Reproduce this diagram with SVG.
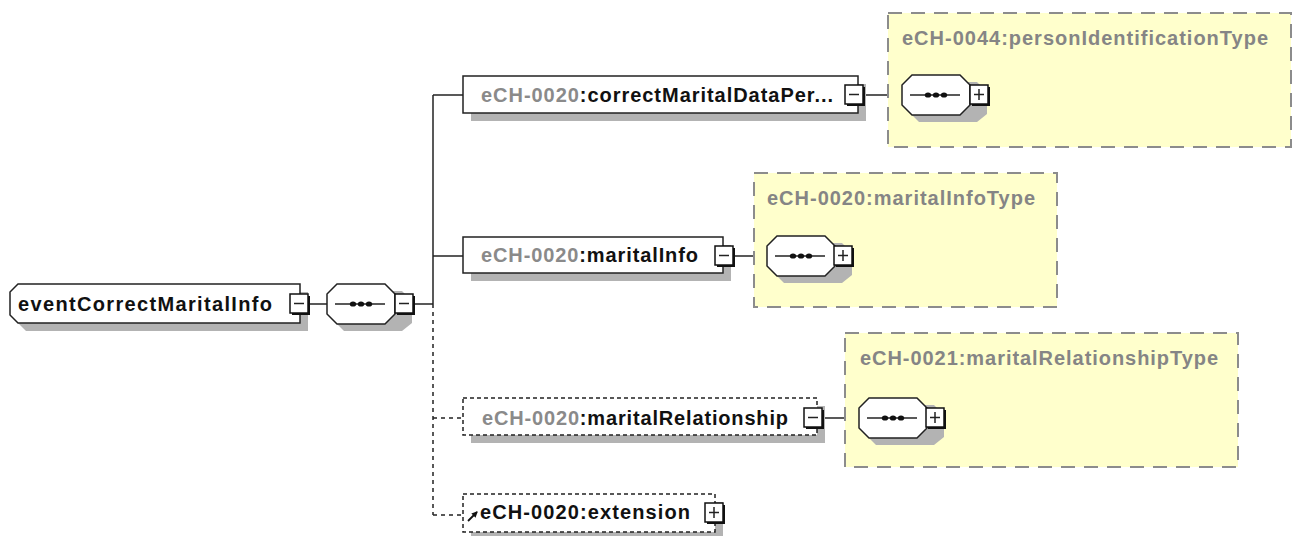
<svg xmlns="http://www.w3.org/2000/svg" width="1293" height="536" viewBox="0 0 1293 536">
<style>
  .lbl{font-family:"Liberation Sans",Arial,sans-serif;font-weight:bold;font-size:20px;fill:#111}
  .pfx{fill:#8a8a8a}
  .tlbl{font-family:"Liberation Sans",Arial,sans-serif;font-weight:bold;font-size:20px;fill:#858585}
  .box{fill:#fff;stroke:#222;stroke-width:1.5}
  .obox{fill:#fff;stroke:#222;stroke-width:1.5;stroke-dasharray:4 3}
  .shadow{fill:#b3b3b3}
  .tbox{fill:#ffffcc;stroke:#8c8c8c;stroke-width:2;stroke-dasharray:14 9}
  .line{stroke:#222;stroke-width:1.5;fill:none}
  .dline{stroke:#222;stroke-width:1.5;fill:none;stroke-dasharray:4 4}
  .btn{fill:#fff;stroke:#111;stroke-width:1.5}
  .btnsh{fill:#111}
</style>
<defs>
  <g id="minus">
    <rect class="btnsh" x="2" y="2" width="18" height="19"/>
    <rect class="btn" x="0" y="0" width="18" height="19"/>
    <line x1="4" y1="9.5" x2="14" y2="9.5" stroke="#222" stroke-width="1.5"/>
  </g>
  <g id="plus">
    <rect class="btnsh" x="2" y="2" width="18" height="19"/>
    <rect class="btn" x="0" y="0" width="18" height="19"/>
    <line x1="4" y1="9.5" x2="14" y2="9.5" stroke="#222" stroke-width="1.5"/>
    <line x1="9" y1="4" x2="9" y2="15" stroke="#222" stroke-width="1.5"/>
  </g>
  <g id="seq">
    <path class="shadow" d="M17,7 H75 L85,17 V39 L75,47 H17 L7,37 V17 Z"/>
    <path class="box" d="M10,0 H58 L68,10 V30 L58,40 H10 L0,30 V10 Z"/>
    <line x1="8" y1="20" x2="58" y2="20" stroke="#222" stroke-width="1.5"/>
    <ellipse cx="26" cy="20" rx="3.2" ry="2.6" fill="#111"/>
    <ellipse cx="34" cy="20" rx="3.2" ry="2.6" fill="#111"/>
    <ellipse cx="42" cy="20" rx="3.2" ry="2.6" fill="#111"/>
  </g>
  <marker id="arr" markerWidth="6" markerHeight="6" refX="5" refY="3" orient="auto" markerUnits="userSpaceOnUse">
    <path d="M0,0 L6,3 L0,6 Z" fill="#111"/>
  </marker>
</defs>

<g id="connectors">
  <line class="line" x1="309" y1="304" x2="327" y2="304"/>
  <line class="line" x1="413" y1="304" x2="433" y2="304"/>
  <line class="line" x1="433" y1="95" x2="433" y2="304"/>
  <line class="dline" x1="433" y1="304" x2="433" y2="515"/>
  <line class="line" x1="433" y1="95" x2="463" y2="95"/>
  <line class="line" x1="433" y1="256" x2="463" y2="256"/>
  <line class="dline" x1="433" y1="418" x2="463" y2="418"/>
  <line class="dline" x1="433" y1="515" x2="463" y2="515"/>
  <line class="line" x1="863" y1="95" x2="902" y2="95"/>
  <line class="line" x1="733" y1="256" x2="768" y2="256"/>
  <line class="line" x1="822" y1="418" x2="860" y2="418"/>
</g>

<g id="type-personIdentification">
  <rect class="tbox" x="888" y="13" width="403" height="134"/>
  <text class="tlbl" x="902" y="45" textLength="366">eCH-0044:personIdentificationType</text>
  <use href="#seq" x="902" y="75"/>
  <use href="#plus" x="970" y="85"/>
</g>

<g id="type-maritalInfo">
  <rect class="tbox" x="754" y="173" width="303" height="134"/>
  <text class="tlbl" x="767" y="205" textLength="268">eCH-0020:maritalInfoType</text>
  <use href="#seq" x="767" y="236"/>
  <use href="#plus" x="834" y="246"/>
</g>

<g id="type-maritalRelationship">
  <rect class="tbox" x="845" y="333" width="393" height="134"/>
  <text class="tlbl" x="860" y="365" textLength="358">eCH-0021:maritalRelationshipType</text>
  <use href="#seq" x="859" y="398"/>
  <use href="#plus" x="926" y="408"/>
</g>

<g id="root">
  <path class="shadow" d="M26,292 H308 V331 H26 L18,323 V300 Z"/>
  <path class="box" d="M18,284 H300 V323 H18 L10,315 V292 Z"/>
  <text class="lbl" x="18" y="311" textLength="254">eventCorrectMaritalInfo</text>
  <use href="#minus" x="290" y="294"/>
</g>

<g id="sequence">
  <use href="#seq" x="327" y="284"/>
  <use href="#minus" x="395" y="294"/>
</g>

<g id="correctMaritalDataPerson">
  <rect class="shadow" x="471" y="84" width="395" height="37"/>
  <rect class="box" x="463" y="76" width="395" height="37"/>
  <text class="lbl" x="481" y="102" textLength="352"><tspan class="pfx">eCH-0020</tspan>:correctMaritalDataPer...</text>
  <use href="#minus" x="845" y="85"/>
</g>

<g id="maritalInfo">
  <rect class="shadow" x="471" y="245" width="260" height="36"/>
  <rect class="box" x="463" y="237" width="260" height="36"/>
  <text class="lbl" x="481" y="262" textLength="217"><tspan class="pfx">eCH-0020</tspan>:maritalInfo</text>
  <use href="#minus" x="715" y="246"/>
</g>

<g id="maritalRelationship">
  <rect class="shadow" x="471" y="406" width="354" height="37"/>
  <rect class="obox" x="463" y="398" width="354" height="37"/>
  <text class="lbl" x="482" y="425" textLength="306"><tspan class="pfx">eCH-0020</tspan>:maritalRelationship</text>
  <use href="#minus" x="804" y="408"/>
</g>

<g id="extension">
  <rect class="shadow" x="471" y="502" width="252" height="38"/>
  <rect class="obox" x="463" y="494" width="252" height="38"/>
  <text class="lbl" x="480" y="519" textLength="210">eCH-0020:extension</text>
  <line x1="468" y1="521" x2="477" y2="512" stroke="#111" stroke-width="1.8" marker-end="url(#arr)"/>
  <use href="#plus" x="705" y="503"/>
</g>
</svg>
